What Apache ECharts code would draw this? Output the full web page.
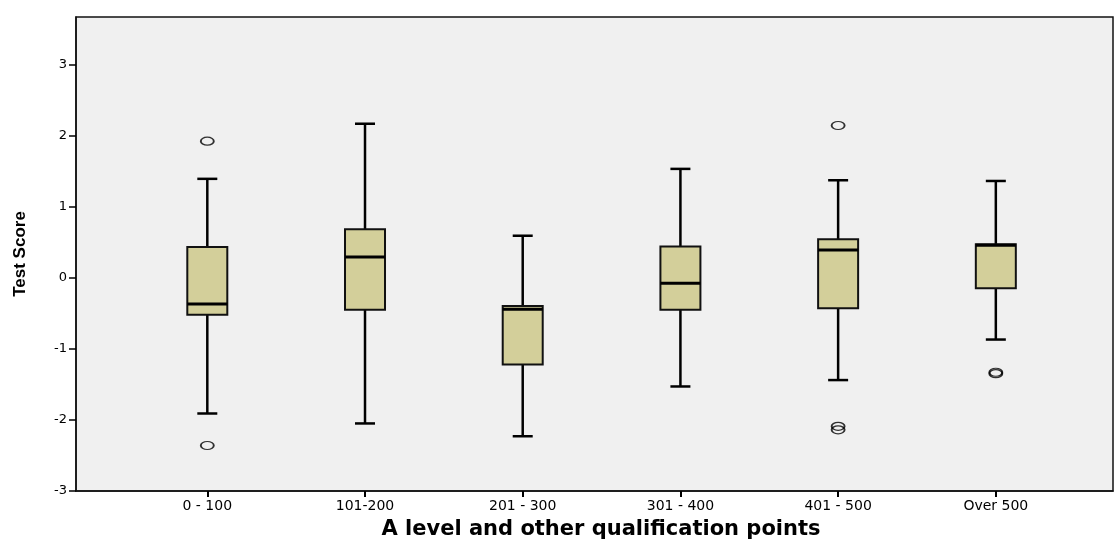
<!DOCTYPE html>
<html>
<head>
<meta charset="utf-8">
<script src="https://cdn.jsdelivr.net/npm/echarts@6/dist/echarts.min.js"></script>
<style>html,body{margin:0;padding:0;background:#fff;}#c{width:1115px;height:541px;}</style>
</head>
<body>
<div id="c"></div>
<script>
const categories = ['0 - 100', '101-200', '201 - 300', '301 - 400', '401 - 500', 'Over 500'];
const whiskerLow  = [-1.91, -2.05, -2.23, -1.53, -1.44, -0.87];
const q1          = [-0.52, -0.45, -1.22, -0.45, -0.43, -0.15];
const medians     = [-0.37,  0.29, -0.445, -0.08, 0.39,  0.455];
const q3          = [ 0.43,  0.68, -0.40,  0.44,  0.54,  0.47];
const whiskerHigh = [ 1.39,  2.165, 0.59,  1.53,  1.37,  1.36];
const outlierCat  = [0, 0, 4, 4, 4, 5, 5];
const outlierVal  = [1.92, -2.36, 2.14, -2.09, -2.14, -1.33, -1.35];
const yTicks = [-3, -2, -1, 0, 1, 2, 3];
const catPositions = [0, 1, 2, 3, 4, 5];

const boxData = categories.map((c, i) => [catPositions[i], whiskerLow[i], q1[i], medians[i], q3[i], whiskerHigh[i]]);
const outlierData = outlierCat.map((c, i) => [catPositions[c], outlierVal[i]]);

const YMIN = -3, YMAX = 3.666;
const XMIN = -0.8326, XMAX = 5.743;
const BOX_HALF = 20, CAP_HALF = 10;

function renderBox(params, api) {
  const i = api.value(0);
  const pLow = api.coord([i, api.value(1)]);
  const pQ1 = api.coord([i, api.value(2)]);
  const pMed = api.coord([i, api.value(3)]);
  const pQ3 = api.coord([i, api.value(4)]);
  const pHigh = api.coord([i, api.value(5)]);
  const cx = pMed[0];
  const lineStyle = { stroke: '#000', lineWidth: 2.5 };
  return {
    type: 'group',
    children: [
      { type: 'line', shape: { x1: cx, y1: pLow[1], x2: cx, y2: pQ1[1] }, style: lineStyle },
      { type: 'line', shape: { x1: cx, y1: pQ3[1], x2: cx, y2: pHigh[1] }, style: lineStyle },
      { type: 'line', shape: { x1: cx - CAP_HALF, y1: pLow[1], x2: cx + CAP_HALF, y2: pLow[1] }, style: lineStyle },
      { type: 'line', shape: { x1: cx - CAP_HALF, y1: pHigh[1], x2: cx + CAP_HALF, y2: pHigh[1] }, style: lineStyle },
      { type: 'rect', shape: { x: cx - BOX_HALF, y: pQ3[1], width: 2 * BOX_HALF, height: pQ1[1] - pQ3[1] },
        style: { fill: '#d3cf9a', stroke: '#111', lineWidth: 2 } },
      { type: 'line', shape: { x1: cx - BOX_HALF, y1: pMed[1], x2: cx + BOX_HALF, y2: pMed[1] },
        style: { stroke: '#000', lineWidth: 3 } }
    ]
  };
}

const chart = echarts.init(document.getElementById('c'), null, { renderer: 'canvas' });
chart.setOption({
  animation: false,
  backgroundColor: '#ffffff',
  grid: { left: 76, right: 2, top: 17, bottom: 50, show: true, backgroundColor: '#f0f0f0', borderColor: '#111', borderWidth: 1.5,
    containLabel: false, outerBoundsMode: 'none' },
  xAxis: {
    type: 'value', min: XMIN, max: XMAX,
    splitLine: { show: false },
    axisLine: { show: true, onZero: false, lineStyle: { color: '#111', width: 1.5 } },
    axisTick: { show: true, customValues: catPositions, length: 6, lineStyle: { color: '#000', width: 2 } },
    axisLabel: { customValues: catPositions, formatter: v => categories[Math.round(v)],
      color: '#000', fontSize: 14, fontFamily: 'DejaVu Sans, Liberation Sans, sans-serif', margin: 8 },
    name: 'A level and other qualification points', nameLocation: 'middle', nameGap: 28,
    nameTextStyle: { color: '#000', fontSize: 21, fontWeight: 'bold', fontFamily: 'DejaVu Sans, Liberation Sans, sans-serif',
      padding: [0, 0, 0, 13] }
  },
  yAxis: {
    type: 'value', min: YMIN, max: YMAX, interval: 1,
    axisLine: { show: true, onZero: false, lineStyle: { color: '#111', width: 1.5 } },
    splitLine: { show: false },
    axisTick: { show: true, length: 7, lineStyle: { color: '#000', width: 1.5 } },
    axisLabel: { color: '#000', fontSize: 13, fontFamily: 'DejaVu Sans, Liberation Sans, sans-serif', margin: 9,
      showMaxLabel: false,
      formatter: v => yTicks.indexOf(v) >= 0 ? String(v) : '' },
    name: 'Test Score', nameLocation: 'middle', nameGap: 47, nameRotate: 90,
    nameTextStyle: { color: '#000', fontSize: 17, fontWeight: 'bold', fontFamily: 'Liberation Sans, Arial, sans-serif' }
  },
  series: [
    { type: 'custom', data: boxData, renderItem: renderBox,
      encode: { x: 0, y: [1, 2, 3, 4, 5] }, clip: false },
    { type: 'scatter', data: outlierData, symbol: 'circle', symbolSize: [13, 8],
      itemStyle: { color: 'rgba(0,0,0,0)', borderColor: '#000', borderWidth: 1.5 } }
  ]
});
</script>
</body>
</html>
